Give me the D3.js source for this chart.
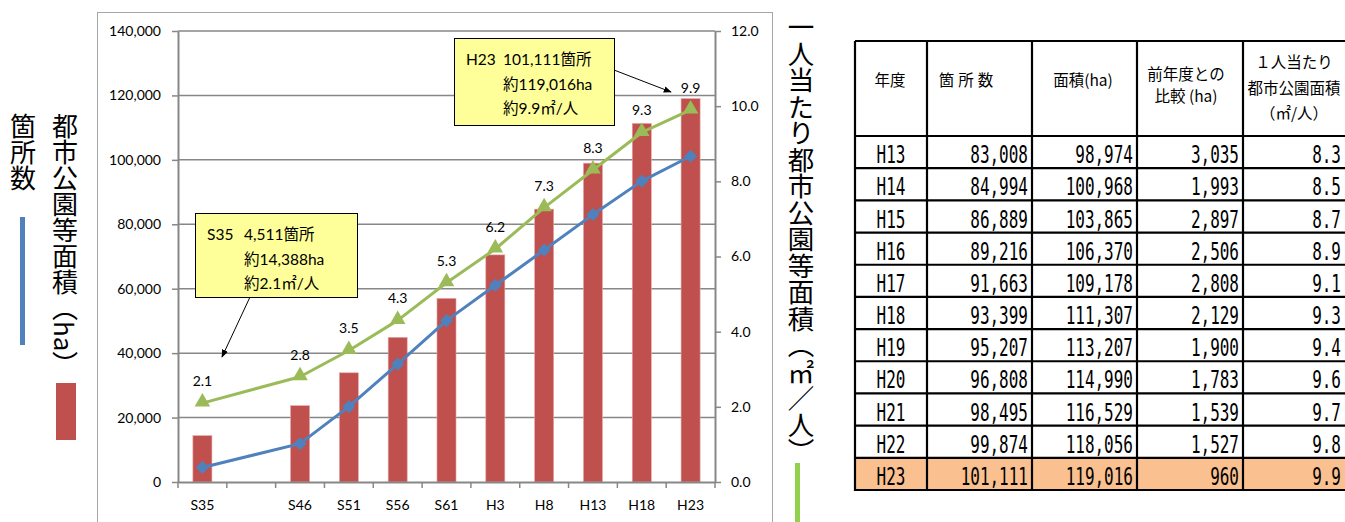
<!DOCTYPE html>
<html>
<head>
<meta charset="utf-8">
<script src="https://cdn.jsdelivr.net/npm/d3@7"></script>
<style>
  body { margin: 0; background: #fff; }
  svg { display: block; }
</style>
</head>
<body>
<svg id="chart"></svg>
<script>
// 都市公園等の整備状況 — 棒グラフ + 折れ線 + 表

// ===== データ =====
var years = ['S35', '', 'S46', 'S51', 'S56', 'S61', 'H3', 'H8', 'H13', 'H18', 'H23'];
var parkArea = [14388, null, 23700, 33900, 44900, 57000, 70500, 84700, 98974, 111307, 119016];   // ha
var parkCount = [4511, null, 11900, 23400, 36600, 50100, 61100, 72000, 83008, 93399, 101111];    // 箇所
var perCapita = [2.1, null, 2.8, 3.5, 4.3, 5.3, 6.2, 7.3, 8.3, 9.3, 9.9];                       // ㎡/人

var leftTicks = [0, 20000, 40000, 60000, 80000, 100000, 120000, 140000];
var rightTicks = [0, 2, 4, 6, 8, 10, 12];

var noteH23 = ['H23', '101,111箇所', '約119,016ha', '約9.9㎡/人'];
var noteS35 = ['S35', '4,511箇所', '約14,388ha', '約2.1㎡/人'];

var tableYears = ['H13', 'H14', 'H15', 'H16', 'H17', 'H18', 'H19', 'H20', 'H21', 'H22', 'H23'];
var tableCount = [83008, 84994, 86889, 89216, 91663, 93399, 95207, 96808, 98495, 99874, 101111];
var tableArea = [98974, 100968, 103865, 106370, 109178, 111307, 113207, 114990, 116529, 118056, 119016];
var tableDiff = [3035, 1993, 2897, 2506, 2808, 2129, 1900, 1783, 1539, 1527, 960];
var tablePerCapita = [8.3, 8.5, 8.7, 8.9, 9.1, 9.3, 9.4, 9.6, 9.7, 9.8, 9.9];
var tableHeaders = [['年度'], ['箇所数'], ['面積(ha)'], ['前年度との', '比較 (ha)'], ['１人当たり', '都市公園面積', '（㎡/人）']];

// ===== 色・フォント =====
var BLUE = '#4f81bd', RED = '#c0504d', GREEN = '#9bbb59', GRID = '#878787';
var FONT = 'Lato, "Noto Sans CJK JP", sans-serif';
var JFONT = '"Noto Sans CJK JP", sans-serif';

var W = 1345, H = 522;
var svg = d3.select('#chart').attr('width', W).attr('height', H);

// 外枠
svg.append('rect')
  .attr('x', 97.5).attr('y', 12.5).attr('width', 675).attr('height', 530)
  .attr('fill', 'none').attr('stroke', '#a6a6a6');

var plot = { left: 178, right: 715, top: 31, bottom: 482 };

var x = d3.scaleBand().domain(d3.range(years.length)).range([plot.left, plot.right]);
var yL = d3.scaleLinear().domain([0, 140000]).range([plot.bottom, plot.top]);
var yR = d3.scaleLinear().domain([0, 12]).range([plot.bottom, plot.top]);

// グリッド
svg.append('g').selectAll('line')
  .data(leftTicks.slice(1))
  .join('line')
  .attr('x1', plot.left).attr('x2', plot.right)
  .attr('y1', function (d) { return yL(d); })
  .attr('y2', function (d) { return yL(d); })
  .attr('stroke', GRID).attr('stroke-width', 1.5);

// 棒（面積）
var idx = d3.range(years.length).filter(function (i) { return parkArea[i] != null; });
var barW = x.bandwidth() * 0.39;
svg.append('g').selectAll('rect')
  .data(idx)
  .join('rect')
  .attr('x', function (i) { return x(i) + (x.bandwidth() - barW) / 2; })
  .attr('y', function (i) { return yL(parkArea[i]); })
  .attr('width', barW)
  .attr('height', function (i) { return plot.bottom - yL(parkArea[i]); })
  .attr('fill', RED)
  .attr('stroke', '#e4a9a8').attr('stroke-width', 0.6);

// 軸
function styleAxis(g) {
  g.select('.domain').attr('stroke', GRID).attr('stroke-width', 2);
  g.selectAll('.tick line').attr('stroke', GRID).attr('stroke-width', 1.5);
  g.selectAll('text').attr('fill', '#000').style('font-family', FONT).style('font-size', '14px');
}

svg.append('g')
  .attr('transform', 'translate(' + plot.left + ',0)')
  .call(d3.axisLeft(yL).tickValues(leftTicks).tickFormat(d3.format(',')).tickSize(6).tickPadding(11).tickSizeOuter(0))
  .call(styleAxis);

svg.append('g')
  .attr('transform', 'translate(' + plot.right + ',0)')
  .call(d3.axisRight(yR).tickValues(rightTicks).tickFormat(d3.format('.1f')).tickSize(6).tickPadding(10).tickSizeOuter(0))
  .call(styleAxis);

var xAxis = svg.append('g')
  .attr('transform', 'translate(0,' + plot.bottom + ')')
  .call(d3.axisBottom(x).tickFormat(function (i) { return years[i]; }).tickSize(0).tickPadding(18).tickSizeOuter(0))
  .call(styleAxis);

// 区切り目盛り
xAxis.append('g').selectAll('line')
  .data(d3.range(years.length + 1))
  .join('line')
  .attr('x1', function (i) { return plot.left + i * x.step(); })
  .attr('x2', function (i) { return plot.left + i * x.step(); })
  .attr('y1', 0).attr('y2', 6)
  .attr('stroke', GRID).attr('stroke-width', 1.5);

// 折れ線（箇所数）
var cx = function (i) { return x(i) + x.bandwidth() / 2; };
svg.append('path')
  .datum(idx)
  .attr('d', d3.line().x(cx).y(function (i) { return yL(parkCount[i]); }))
  .attr('fill', 'none').attr('stroke', BLUE).attr('stroke-width', 3).attr('stroke-linejoin', 'round');

svg.append('g').selectAll('path')
  .data(idx)
  .join('path')
  .attr('d', d3.symbol(d3.symbolSquare, 85))
  .attr('transform', function (i) { return 'translate(' + cx(i) + ',' + yL(parkCount[i]) + ') rotate(45)'; })
  .attr('fill', BLUE);

// 折れ線（一人当たり面積）
svg.append('path')
  .datum(idx)
  .attr('d', d3.line().x(cx).y(function (i) { return yR(perCapita[i]); }))
  .attr('fill', 'none').attr('stroke', GREEN).attr('stroke-width', 3).attr('stroke-linejoin', 'round');

svg.append('g').selectAll('path')
  .data(idx)
  .join('path')
  .attr('d', d3.symbol(d3.symbolTriangle, 105))
  .attr('transform', function (i) { return 'translate(' + cx(i) + ',' + (yR(perCapita[i]) - 1) + ')'; })
  .attr('fill', GREEN);

svg.append('g').selectAll('text')
  .data(idx)
  .join('text')
  .attr('x', cx)
  .attr('y', function (i) { return yR(perCapita[i]) - 17; })
  .attr('text-anchor', 'middle')
  .style('font-family', FONT).style('font-size', '14px')
  .text(function (i) { return d3.format('.1f')(perCapita[i]); });

// 注記
var defs = svg.append('defs');
defs.append('marker')
  .attr('id', 'arrow').attr('viewBox', '0 0 10 10')
  .attr('refX', 9).attr('refY', 5)
  .attr('markerWidth', 8).attr('markerHeight', 8)
  .attr('orient', 'auto')
  .append('path').attr('d', 'M0,1 L10,5 L0,9 Z').attr('fill', '#000');

function drawNote(lines, bx, by, bw, bh, from, to) {
  var g = svg.append('g');
  g.append('rect')
    .attr('x', bx + 0.5).attr('y', by + 0.5).attr('width', bw).attr('height', bh)
    .attr('fill', '#ffff99').attr('stroke', '#000').attr('stroke-width', 1);
  var t = g.append('g').style('font-family', FONT).style('font-size', '15.5px');
  t.append('text').attr('x', bx + 12).attr('y', by + 27).text(lines[0]);
  t.append('text').attr('x', bx + 49).attr('y', by + 27).text(lines[1]);
  t.append('text').attr('x', bx + 49).attr('y', by + 52).text(lines[2]);
  t.append('text').attr('x', bx + 49).attr('y', by + 76).text(lines[3]);
  g.append('line')
    .attr('x1', from[0]).attr('y1', from[1]).attr('x2', to[0]).attr('y2', to[1])
    .attr('stroke', '#000').attr('stroke-width', 1)
    .attr('marker-end', 'url(#arrow)');
}
drawNote(noteH23, 454, 38, 160, 87, [614, 70], [671, 92]);
drawNote(noteS35, 195, 213, 162, 84, [250, 297], [222, 357]);

// 縦書きタイトル
function vtext(str, tx, ty, size) {
  svg.append('text')
    .attr('x', tx).attr('y', ty)
    .style('writing-mode', 'vertical-rl')
    .style('font-family', JFONT).style('font-size', size + 'px')
    .attr('fill', '#000')
    .text(str);
}
vtext('箇所数', 23, 113, 26);
vtext('都市公園等面積（ha）', 65, 113, 26);
vtext('一人当たり都市公園等面積（㎡／人）', 801, 14, 26.5);

svg.append('rect').attr('x', 20).attr('y', 217).attr('width', 5).attr('height', 128).attr('fill', BLUE);
svg.append('rect').attr('x', 56).attr('y', 383).attr('width', 20).attr('height', 57).attr('fill', RED);
svg.append('rect').attr('x', 795).attr('y', 463).attr('width', 5).attr('height', 60).attr('fill', '#92d050');

// ===== 表 =====
var colEdges = [855, 927, 1032, 1137, 1243, 1352];
var headTop = 41, headBottom = 136;
var rowY = d3.scaleBand().domain(tableYears).range([headBottom, 490]);

var tbl = svg.append('g');
// 最終行の塗り
tbl.append('rect')
  .attr('x', colEdges[0]).attr('y', rowY('H23'))
  .attr('width', colEdges[5] - colEdges[0]).attr('height', rowY.bandwidth())
  .attr('fill', '#fac090');

// 罫線
var hLines = [headTop, headBottom].concat(tableYears.map(function (d) { return rowY(d) + rowY.bandwidth(); }));
tbl.append('g').selectAll('line')
  .data(hLines)
  .join('line')
  .attr('x1', colEdges[0]).attr('x2', colEdges[5])
  .attr('y1', function (d) { return d; }).attr('y2', function (d) { return d; })
  .attr('stroke', '#000').attr('stroke-width', 2.2);
tbl.append('g').selectAll('line')
  .data(colEdges.slice(0, 5))
  .join('line')
  .attr('x1', function (d) { return d; }).attr('x2', function (d) { return d; })
  .attr('y1', headTop).attr('y2', 491)
  .attr('stroke', '#000').attr('stroke-width', 2.2);

// 見出し
var headCenters = [890, 968, 1083, 1186, 1294];
var headLineY = [[86], [86], [86], [80, 102], [68, 94, 119]];
tableHeaders.forEach(function (lines, c) {
  lines.forEach(function (s, k) {
    tbl.append('text')
      .attr('x', headCenters[c]).attr('y', headLineY[c][k])
      .attr('text-anchor', 'middle')
      .style('font-family', JFONT).style('font-size', '15.5px')
      .style('letter-spacing', c === 1 ? '4px' : '0px')
      .text(s);
  });
});

// 本体
var fmtInt = d3.format(',');
var fmt1 = d3.format('.1f');
function cell(str, tx, ty, anchor) {
  tbl.append('text')
    .attr('transform', 'translate(' + tx + ',' + ty + ') scale(0.64,1)')
    .attr('text-anchor', anchor)
    .style('font-family', '"DejaVu Sans Mono", monospace').style('font-size', '25px')
    .text(str);
}
tableYears.forEach(function (yr, r) {
  var by = rowY(yr) + rowY.bandwidth() - 5;
  cell(yr, (colEdges[0] + colEdges[1]) / 2, by, 'middle');
  cell(fmtInt(tableCount[r]), colEdges[2] - 4, by, 'end');
  cell(fmtInt(tableArea[r]), colEdges[3] - 4, by, 'end');
  cell(fmtInt(tableDiff[r]), colEdges[4] - 4, by, 'end');
  cell(fmt1(tablePerCapita[r]), 1341, by, 'end');
});
</script>
</body>
</html>
